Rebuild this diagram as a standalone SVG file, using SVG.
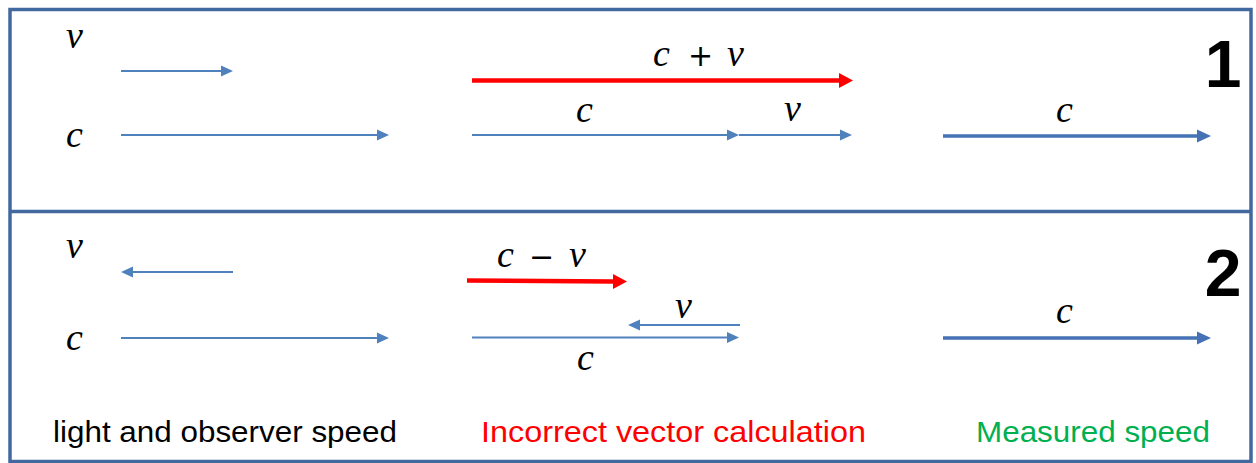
<svg xmlns="http://www.w3.org/2000/svg" width="1256" height="463" viewBox="0 0 1256 463">
<style>
.frame{fill:none;stroke:#41699F;stroke-width:3.5}
.thin{stroke:#4F81BD;stroke-width:2;fill:none}
.thick{stroke:#4472B4;stroke-width:3.5;fill:none}
.red{stroke:#FF0000;stroke-width:4.5;fill:none}
.math{font-family:"Liberation Serif","DejaVu Serif",serif;font-style:italic;font-size:38px;fill:#000}
.op{font-style:normal;font-family:"DejaVu Sans","Liberation Sans",sans-serif;font-size:30px}
.num{font-family:"Liberation Sans","Arial",sans-serif;font-weight:bold;font-size:66px;fill:#000;text-anchor:middle}
.cap{font-family:"Liberation Sans Narrow","Liberation Sans",sans-serif;font-size:30px}
</style>
<defs>
<marker id="hThin" markerUnits="userSpaceOnUse" markerWidth="13" markerHeight="12" viewBox="0 -6 13 12" refX="0" refY="0" orient="auto"><path d="M0,-5.5 L12,0 L0,5.5 Z" fill="#4F81BD"/></marker>
<marker id="hThick" markerUnits="userSpaceOnUse" markerWidth="16" markerHeight="16" viewBox="0 -8 16 16" refX="0" refY="0" orient="auto"><path d="M0,-6.5 L14,0 L0,6.5 Z" fill="#4472B4"/></marker>
<marker id="hRed" markerUnits="userSpaceOnUse" markerWidth="16" markerHeight="18" viewBox="0 -9 16 18" refX="0" refY="0" orient="auto"><path d="M0,-7.5 L14,0 L0,7.5 Z" fill="#FF0000"/></marker>
</defs>
<rect x="0" y="0" width="1256" height="463" fill="#fff"/>
<g id="frame">
<rect class="frame" x="10" y="9.5" width="1241" height="452"/>
<line class="frame" x1="10" y1="211.5" x2="1251" y2="211.5"/>
</g>
<g id="connectors">
<line class="thin" x1="121" y1="71" x2="221" y2="71" marker-end="url(#hThin)"/>
<line class="thin" x1="121" y1="135" x2="377" y2="135" marker-end="url(#hThin)"/>
<line class="red" x1="472" y1="80.5" x2="839" y2="80.5" marker-end="url(#hRed)"/>
<line class="thin" x1="472" y1="135" x2="727" y2="135" marker-end="url(#hThin)"/>
<line class="thin" x1="739" y1="135" x2="840" y2="135" marker-end="url(#hThin)"/>
<line class="thick" x1="943" y1="136" x2="1197" y2="136" marker-end="url(#hThick)"/>
<line class="thin" x1="233" y1="272" x2="133" y2="272" marker-end="url(#hThin)"/>
<line class="thin" x1="121" y1="338" x2="377" y2="338" marker-end="url(#hThin)"/>
<line class="red" x1="467" y1="280.5" x2="613" y2="281.5" marker-end="url(#hRed)"/>
<line class="thin" x1="740" y1="325" x2="640" y2="325" marker-end="url(#hThin)"/>
<line class="thin" x1="472" y1="337.5" x2="727" y2="337.5" marker-end="url(#hThin)"/>
<line class="thick" x1="943" y1="338" x2="1197" y2="338" marker-end="url(#hThick)"/>
</g>
<g id="panel1-labels">
<text class="math" x="66" y="48">v</text>
<text class="math" x="66" y="147">c</text>
<text class="math" y="66"><tspan x="653">c</tspan><tspan class="op" x="688">+</tspan><tspan x="727">v</tspan></text>
<text class="math" x="576" y="122">c</text>
<text class="math" x="784" y="121">v</text>
<text class="math" x="1056" y="122">c</text>
<text class="num" x="1223" y="87">1</text>
</g>
<g id="panel2-labels">
<text class="math" x="66" y="258">v</text>
<text class="math" x="66" y="350">c</text>
<text class="math" y="267"><tspan x="497">c</tspan><tspan class="op" x="529">−</tspan><tspan x="569">v</tspan></text>
<text class="math" x="675" y="318">v</text>
<text class="math" x="577" y="370">c</text>
<text class="math" x="1056" y="323">c</text>
<text class="num" x="1223" y="296">2</text>
</g>
<g id="captions">
<text class="cap" x="53" y="442" fill="#000" textLength="344" lengthAdjust="spacingAndGlyphs">light and observer speed</text>
<text class="cap" x="481" y="442" fill="#FF0000" textLength="385" lengthAdjust="spacingAndGlyphs">Incorrect vector calculation</text>
<text class="cap" x="976" y="442" fill="#00B050" textLength="234" lengthAdjust="spacingAndGlyphs">Measured speed</text>
</g>
</svg>
